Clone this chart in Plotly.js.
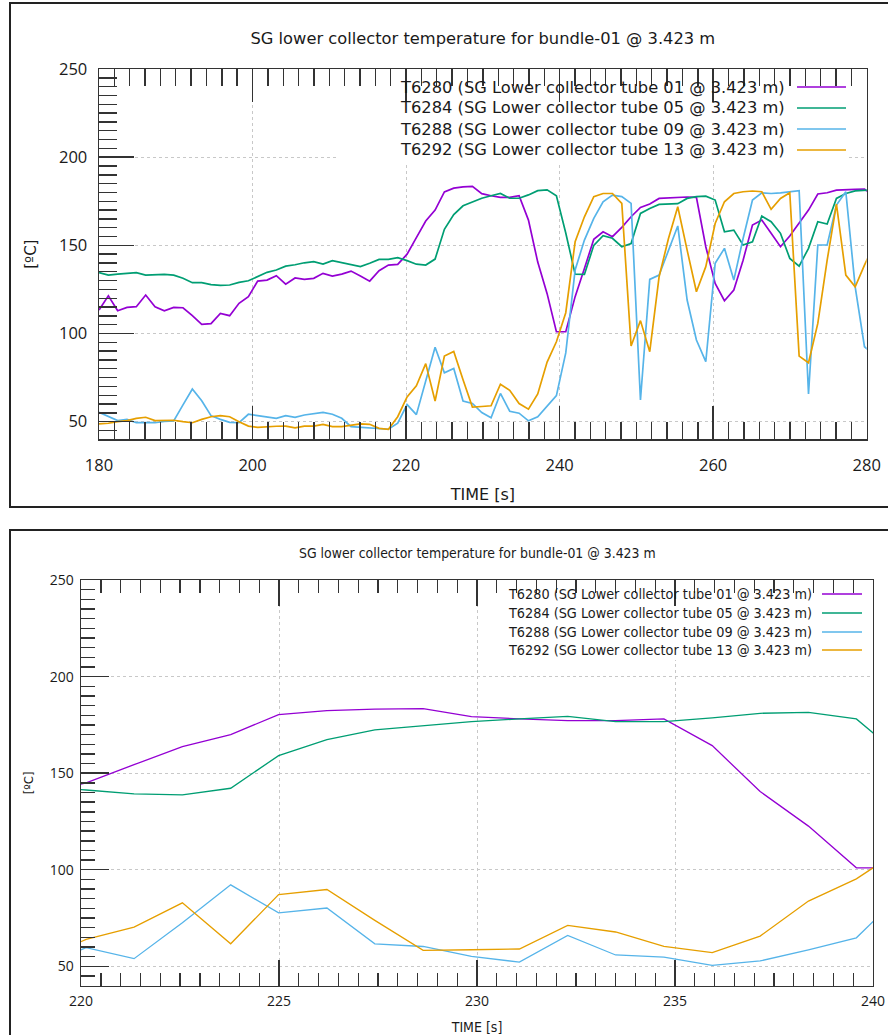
<!DOCTYPE html>
<html>
<head>
<meta charset="utf-8">
<script src="https://cdn.plot.ly/plotly-3.0.1.min.js"></script>
<style>
  html, body { margin: 0; padding: 0; background: #fff; }
  #chart { width: 888px; height: 1035px; }
</style>
</head>
<body>
<div id="chart"></div>
<script>
// Sample times [s]
const time = [
  180.00,181.22,182.43,183.65,184.86,186.08,187.30,188.51,189.73,190.94,
  192.16,193.38,194.59,195.81,197.02,198.24,199.46,200.67,201.89,203.10,
  204.32,205.54,206.75,207.97,209.18,210.40,211.62,212.83,214.05,215.26,
  216.48,217.70,218.91,220.13,221.34,222.56,223.78,224.99,226.21,227.42,
  228.64,229.86,231.07,232.29,233.50,234.72,235.94,237.15,238.37,239.58,
  240.80,242.02,243.23,244.45,245.66,246.88,248.10,249.31,250.53,251.74,
  252.96,254.18,255.39,256.61,257.82,259.04,260.26,261.47,262.69,263.90,
  265.12,266.34,267.55,268.77,269.98,271.20,272.42,273.63,274.85,276.06,
  277.28,278.50,279.71,280.93
];

// Thermocouple readings [ºC]
const t6280 = [
  113.3,121.4,112.9,114.8,115.2,121.8,115.2,112.9,114.8,114.6,
  110.1,105.2,105.6,111.4,110.1,117.1,120.9,129.7,130.3,132.8,
  128.0,131.5,130.7,131.3,134.1,132.6,133.7,135.4,132.6,129.7,
  135.6,138.8,139.2,145.0,154.4,163.8,170.0,180.3,182.4,183.2,
  183.4,179.3,178.1,177.2,177.2,178.1,164.3,140.5,122.6,101.0,
  101.0,120.9,136.9,153.4,157.7,154.9,160.2,166.2,171.5,173.4,
  176.6,177.0,177.2,177.4,177.2,149.2,128.4,118.6,124.6,141.6,
  161.5,164.3,156.8,149.2,155.3,162.4,170.0,179.1,179.8,181.3,
  181.3,181.7,181.9,177.5
];
const t6284 = [
  134.5,133.1,133.7,134.1,134.5,133.1,133.3,133.5,133.1,131.3,
  128.8,128.8,127.7,127.3,127.5,129.0,129.9,132.2,134.7,136.0,
  138.2,139.0,140.1,140.7,139.4,141.3,140.1,139.2,137.9,139.8,
  142.0,142.0,143.0,141.3,139.3,138.8,142.2,159.1,167.4,172.4,
  174.6,176.7,178.1,179.4,176.7,176.7,178.6,181.0,181.5,178.1,
  157.0,133.7,133.5,150.0,155.5,154.0,149.2,151.0,168.1,170.9,
  173.2,173.4,173.6,176.6,177.6,177.9,175.7,157.7,158.6,150.2,
  152.0,166.6,163.4,156.8,142.6,138.2,148.3,163.4,162.1,176.6,
  179.4,180.9,181.3,181.5
];
const t6288 = [
  55.3,52.8,50.6,51.3,49.4,49.4,49.4,50.2,50.4,59.5,
  68.5,61.9,53.4,51.3,49.6,49.4,54.2,53.4,52.5,51.9,
  53.4,52.5,53.8,54.7,55.3,54.2,51.9,47.2,46.8,46.6,
  46.2,45.7,49.1,59.7,54.0,72.6,92.2,77.7,80.2,61.7,
  60.3,55.2,52.2,66.0,55.9,54.8,50.5,52.8,58.6,64.8,
  89.0,136.0,153.0,165.3,174.7,178.5,177.6,173.8,62.3,130.7,
  133.1,147.3,161.0,119.0,96.3,84.0,139.8,148.3,130.3,153.9,
  175.7,179.8,179.4,179.8,180.4,181.0,65.7,150.2,150.2,172.8,
  180.4,126.5,92.5,88.0
];
const t6292 = [
  48.7,49.1,50.0,50.6,51.9,52.5,50.6,50.6,50.8,50.0,
  49.4,51.3,52.8,53.4,52.8,50.0,47.5,46.8,47.2,47.4,
  47.5,46.5,47.5,47.5,48.5,47.2,47.2,48.1,48.7,48.5,
  46.2,45.7,52.8,64.0,70.3,82.9,61.7,87.2,89.8,73.8,
  58.3,58.6,59.0,71.2,67.8,60.3,57.1,65.7,83.8,95.3,
  111.8,152.0,166.2,177.6,179.4,179.4,173.8,92.9,107.3,89.7,
  132.2,153.9,171.9,147.3,123.7,137.9,162.4,174.7,179.4,180.4,
  180.8,180.4,170.4,176.6,179.8,87.2,83.4,105.7,141.6,173.4,
  133.1,126.5,138.8,150.0
];

const seriesNames = [
  'T6280 (SG Lower collector tube 01 @ 3.423 m)',
  'T6284 (SG Lower collector tube 05 @ 3.423 m)',
  'T6288 (SG Lower collector tube 09 @ 3.423 m)',
  'T6292 (SG Lower collector tube 13 @ 3.423 m)'
];
const seriesValues = [t6280, t6284, t6288, t6292];
const seriesColors = ['#9400d3', '#009e73', '#56b4e9', '#e69f00'];

const chartTitle = 'SG lower collector temperature for bundle-01 @ 3.423 m';
const xTitle = 'TIME [s]';
const yTitle = '[ºC]';

// ---- page geometry (pixels) ----
const W = 888, H = 1035;
const px = x => x / W;
const py = y => 1 - y / H;

const AXIS = '#333333';
const GRID = '#c8c8c8';
const TEXT = '#1a1a1a';
const FONT = 'DejaVu Sans';
const CONDENSED = 'DejaVu Sans Condensed, DejaVu Sans';
const NUMFONT = 'Open Sans';

// two panels: full run and zoom on the transient
const panels = [
  {
    sfx: '', xRange: [180, 280], xDtick: 20, xMinor: 2,
    box: [99, 69, 866.7, 439.3], frameTop: 3, frameBottom: 507,
    majorX: 33, minorX: 17, majorY: 35, minorY: 18,
    lineW: 1.7, tickSize: 16.5, titleSize: 16.3, titleY: 38,
    legendSize: 16.3, legendRight: 787, legendRows: [87, 108, 129, 150], keyX: [797, 846],
    legendBack: [338, 69, 848, 162],
    axisTitleSize: 16, yTitleSize: 15,
    xStand: 10, yStand: 7, xTitleStand: 14, yTitleStand: 18,
    textFont: FONT
  },
  {
    sfx: '2', xRange: [220, 240], xDtick: 5, xMinor: 0.5,
    box: [81, 580, 873, 985.7], frameTop: 530, frameBottom: 1100,
    majorX: 26, minorX: 13, majorY: 28, minorY: 14,
    lineW: 1.3, tickSize: 14, titleSize: 13.9, titleY: 553,
    legendSize: 14.3, legendRight: 814, legendRows: [594, 613, 632, 650], keyX: [822, 862],
    legendBack: [500, 580, 866, 660],
    axisTitleSize: 14, yTitleSize: 13,
    xStand: 2, yStand: 3, xTitleStand: 24, yTitleStand: 13,
    textFont: CONDENSED
  }
];

const traces = [];
const layout = {
  width: W, height: H,
  margin: { l: 0, r: 0, t: 0, b: 0, pad: 0 },
  paper_bgcolor: '#ffffff', plot_bgcolor: '#ffffff',
  showlegend: false,
  title: {
    text: chartTitle, font: { family: FONT, size: panels[0].titleSize, color: TEXT },
    xref: 'paper', x: px((panels[0].box[0] + panels[0].box[2]) / 2), xanchor: 'center',
    yref: 'paper', y: py(panels[0].titleY), yanchor: 'middle'
  },
  shapes: [], annotations: []
};

panels.forEach((p, pi) => {
  const xa = 'x' + p.sfx, ya = 'y' + p.sfx;

  seriesValues.forEach((vals, i) => {
    traces.push({
      type: 'scatter', mode: 'lines', x: time, y: vals, name: seriesNames[i],
      xaxis: xa, yaxis: ya, showlegend: false, hoverinfo: 'x+y+name',
      line: { color: seriesColors[i], width: p.lineW }
    });
  });

  layout['xaxis' + p.sfx] = {
    domain: [px(p.box[0]), px(p.box[2])], anchor: ya,
    range: p.xRange, tick0: 0, dtick: p.xDtick, autorange: false,
    ticks: 'inside', ticklen: p.majorX, tickwidth: 1.4, tickcolor: AXIS,
    showline: true, linecolor: AXIS, linewidth: 1.4, mirror: 'ticks',
    showgrid: true, gridcolor: GRID, gridwidth: 1, griddash: 'dot', zeroline: false,
    minor: { dtick: p.xMinor, tick0: 0, ticks: 'inside', ticklen: p.minorX, tickwidth: 1.4, tickcolor: AXIS, showgrid: false },
    tickfont: { family: NUMFONT, size: p.tickSize, color: TEXT },
    ticklabelstandoff: p.xStand,
    title: { text: xTitle, font: { family: p.textFont, size: p.axisTitleSize, color: TEXT }, standoff: p.xTitleStand },
    automargin: false
  };
  layout['yaxis' + p.sfx] = {
    domain: [py(p.box[3]), py(p.box[1])], anchor: xa,
    range: [40, 250], tick0: 0, dtick: 50, autorange: false,
    ticks: 'inside', ticklen: p.majorY, tickwidth: 1.4, tickcolor: AXIS,
    showline: true, linecolor: AXIS, linewidth: 1.4, mirror: true,
    showgrid: true, gridcolor: GRID, gridwidth: 1, griddash: 'dot', zeroline: false,
    minor: { dtick: 5, tick0: 0, ticks: 'inside', ticklen: p.minorY, tickwidth: 1.4, tickcolor: AXIS, showgrid: false },
    tickfont: { family: NUMFONT, size: p.tickSize, color: TEXT },
    ticklabelstandoff: p.yStand,
    title: { text: yTitle, font: { family: p.textFont, size: p.yTitleSize, color: TEXT }, standoff: p.yTitleStand },
    automargin: false
  };

  // outer frame of the panel
  layout.shapes.push({
    type: 'rect', xref: 'paper', yref: 'paper', layer: 'above',
    x0: px(10), x1: 1.05, y0: py(p.frameBottom), y1: py(p.frameTop),
    line: { color: '#222222', width: 2 }, fillcolor: 'rgba(0,0,0,0)'
  });

  // opaque key background (hides grid under the key)
  const lb = p.legendBack;
  const xr = p.xRange, span = p.box[2] - p.box[0];
  const toX = v => xr[0] + (v - p.box[0]) / span * (xr[1] - xr[0]);
  const toY = v => 250 - (v - p.box[1]) / (p.box[3] - p.box[1]) * 210;
  layout.shapes.push({
    type: 'rect', xref: xa, yref: ya, layer: 'between',
    x0: toX(lb[0]), x1: toX(lb[2]), y0: toY(lb[3]), y1: toY(lb[1]),
    line: { width: 0 }, fillcolor: '#ffffff'
  });

  // key entries: text on the left, line sample on the right
  seriesNames.forEach((name, i) => {
    layout.annotations.push({
      xref: 'paper', yref: 'paper', x: px(p.legendRight), y: py(p.legendRows[i]),
      xanchor: 'right', yanchor: 'middle', showarrow: false, align: 'right',
      text: name, font: { family: p.textFont, size: p.legendSize, color: TEXT }
    });
    layout.shapes.push({
      type: 'line', xref: 'paper', yref: 'paper', layer: 'above',
      x0: px(p.keyX[0]), x1: px(p.keyX[1]), y0: py(p.legendRows[i]), y1: py(p.legendRows[i]),
      line: { color: seriesColors[i], width: p.lineW }
    });
  });

  if (pi === 1) {
    layout.annotations.push({
      xref: 'paper', yref: 'paper', x: px((p.box[0] + p.box[2]) / 2), y: py(p.titleY),
      xanchor: 'center', yanchor: 'middle', showarrow: false,
      text: chartTitle, font: { family: p.textFont, size: p.titleSize, color: TEXT }
    });
  }
});

Plotly.newPlot('chart', traces, layout, { displayModeBar: false, staticPlot: true });
</script>
</body>
</html>
